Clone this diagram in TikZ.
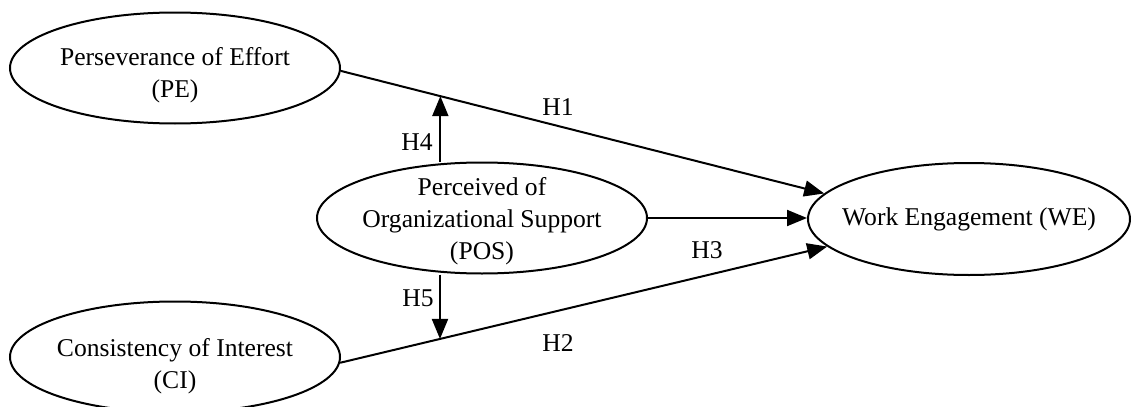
\documentclass[tikz,border=0pt]{standalone}
\usepackage{fontspec}
\setmainfont{Liberation Serif}
\usetikzlibrary{shapes.geometric,arrows.meta}
\begin{document}
\begin{tikzpicture}[x=0.5pt,y=-0.5pt,
  ell/.style={draw,ellipse,line width=1pt,inner sep=0pt,minimum width=165pt,minimum height=55.5pt},
  txt/.style={align=center,inner sep=0pt,font=\fontsize{12.8}{16}\selectfont},
  lab/.style={inner sep=0pt,font=\fontsize{12.8}{16}\selectfont},
  conn/.style={line width=1pt,-{Triangle[length=10pt,width=8pt]}}]
\useasboundingbox (0,0) rectangle (1131,407);
% ellipses
\node[ell] (PE) at (175,68) {};
\node[ell] (POS) at (482,218) {};
\node[ell] (CI) at (175,357) {};
\node[ell,minimum width=161pt,minimum height=56pt] (WE) at (969,219) {};
% texts
\node[txt] (PEt) at (175,75) {Perseverance of Effort\\(PE)};
\node[txt] (POSt) at (482,221) {Perceived of\\Organizational Support\\(POS)};
\node[txt] (CIt) at (175,366) {Consistency of Interest\\(CI)};
\node[txt] (WEt) at (969,219) {Work Engagement (WE)};
% connectors
\draw[conn] (PE.-1.4) -- coordinate[pos=0.206] (m1) (WE.170);
\draw[conn] (CI.-2) -- coordinate[pos=0.205] (m2) (WE.191);
\draw[conn] (POS.east) -- (POS.east -| WE.west);
\draw[conn] (m1 |- POS.north) -- (m1);
\draw[conn] (m2 |- POS.south) -- (m2);
% labels
\node[lab] (H1) at (558,107) {H1};
\node[lab] (H2) at (558,343) {H2};
\node[lab] (H3) at (707,250) {H3};
\node[lab] (H4) at (417,142) {H4};
\node[lab] (H5) at (418,298) {H5};
\end{tikzpicture}
\end{document}
